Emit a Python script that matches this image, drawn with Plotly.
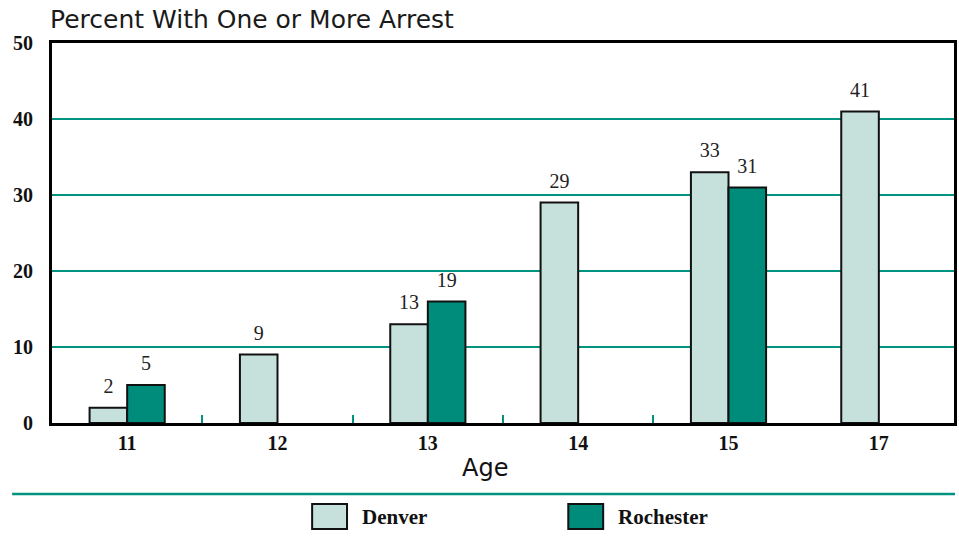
import plotly.graph_objects as go

# ---- data ----
ages = ["11", "12", "13", "14", "15", "17"]
denver = [2, 9, 13, 29, 33, 41]
rochester = [5, None, 16, None, 31, None]
denver_labels = ["2", "9", "13", "29", "33", "41"]
rochester_labels = ["5", "", "19", "", "31", ""]
series_names = ["Denver", "Rochester"]
y_ticks = [0, 10, 20, 30, 40, 50]

# ---- style ----
C_DEN = "#C6E0DC"
C_ROC = "#008C7A"
C_GRID = "#00937F"
SERIF = "Liberation Serif"
SANS = "DejaVu Sans"

W, H = 959, 537
L, R, T, B = 52, 2, 43, 114
PW, PH = W - L - R, H - T - B


def px_x(px):
    return (px - L) / PW


def px_y(py):
    return (H - B - py) / PH


fig = go.Figure()
for vals, col, name in [(denver, C_DEN, series_names[0]), (rochester, C_ROC, series_names[1])]:
    fig.add_trace(go.Bar(x=ages, y=vals, name=name, offsetgroup=name,
                         marker=dict(color=col, line=dict(color="#111", width=2)),
                         showlegend=False))
# value labels, grouped the same way as the bars
for vals, labels, name in [(denver, denver_labels, series_names[0]),
                           (rochester, rochester_labels, series_names[1])]:
    fig.add_trace(go.Scatter(x=ages, y=vals, text=labels, mode="markers+text",
                             offsetgroup=name, textposition="top center",
                             marker=dict(size=14, opacity=0), cliponaxis=False,
                             textfont=dict(family=SERIF, size=20, color="#222"),
                             showlegend=False, hoverinfo="skip"))
# invisible trace for boundary ticks on a second x axis
fig.add_trace(go.Scatter(x=[None], y=[None], xaxis="x2", showlegend=False, hoverinfo="skip"))

fig.update_layout(
    width=W, height=H,
    margin=dict(l=L, r=R, t=T, b=B),
    plot_bgcolor="white", paper_bgcolor="white",
    barmode="group", bargap=0.5, bargroupgap=0,
    scattermode="group", scattergap=0.5,
    xaxis=dict(type="category", range=[-0.5, 5.5], showline=True, linecolor="black", linewidth=3,
               mirror=True, ticks="", showgrid=False,
               tickfont=dict(family=SERIF, size=20, color="#111", weight="bold"),
               ticklabelstandoff=0),
    xaxis2=dict(range=[-0.5, 5.5], overlaying="x", anchor="y", side="bottom",
                tickvals=[0.5, 1.5, 2.5, 3.5], ticks="inside", ticklen=8, tickwidth=2,
                tickcolor=C_GRID, showticklabels=False, showgrid=False, showline=False,
                zeroline=False),
    yaxis=dict(range=[0, 50], tickvals=y_ticks, showline=True, linecolor="black", linewidth=3,
               mirror=True, ticks="", showgrid=True, gridcolor=C_GRID, gridwidth=1.5,
               zeroline=False, tickfont=dict(family=SERIF, size=20, color="#111", weight="bold"),
               ticklabelstandoff=12),
    font=dict(family=SERIF),
)

fig.add_annotation(text="Percent With One or More Arrest", xref="paper", yref="paper",
                   x=px_x(48), y=px_y(20), xanchor="left", yanchor="middle", showarrow=False,
                   font=dict(family=SANS, size=25, color="#1a1a1a"))
fig.add_annotation(text="Age", xref="paper", yref="paper", x=px_x(486), y=px_y(468),
                   xanchor="center", yanchor="middle", showarrow=False,
                   font=dict(family=SANS, size=24, color="#111"))

# separator line
fig.add_shape(type="line", xref="paper", yref="paper", x0=px_x(12), x1=px_x(958),
              y0=px_y(494), y1=px_y(494), line=dict(color=C_GRID, width=2.5))

# legend drawn manually (large swatches)
legend_items = [(series_names[0], C_DEN, 313), (series_names[1], C_ROC, 570)]
for name, col, x0 in legend_items:
    fig.add_shape(type="rect", xref="paper", yref="paper", x0=px_x(x0), x1=px_x(x0 + 35),
                  y0=px_y(529), y1=px_y(504), fillcolor=col, line=dict(color="#111", width=2))
    fig.add_annotation(text=name, xref="paper", yref="paper", x=px_x(x0 + 48), y=px_y(517),
                       xanchor="left", yanchor="middle", showarrow=False,
                       font=dict(family=SERIF, size=21, color="#111", weight="bold"))

fig.write_html("out.html", config={"displayModeBar": False},
               post_script="document.body.style.margin='0';document.body.style.overflow='hidden';")
